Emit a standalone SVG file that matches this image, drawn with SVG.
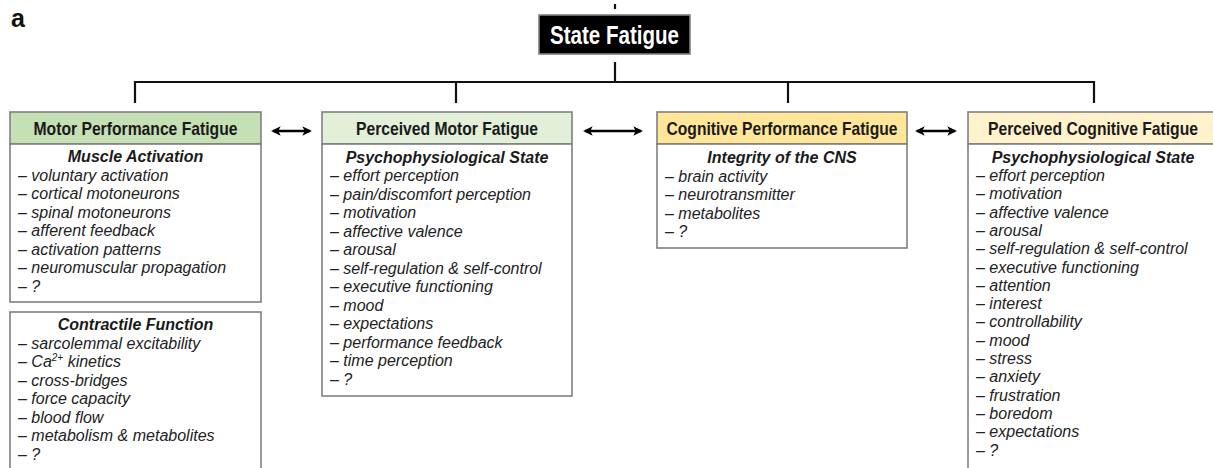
<svg xmlns="http://www.w3.org/2000/svg" width="1213" height="468" viewBox="0 0 1213 468">
<style>
  .bg{fill:#ffffff}
  .box{fill:#ffffff;stroke:#808080;stroke-width:1.6}
  .hdr{stroke:#808080;stroke-width:1.6}
  .htxt{font-family:"Liberation Sans",Arial,sans-serif;font-weight:bold;font-size:19px;fill:#1a1a1a;text-anchor:middle}
  .sub{font-family:"Liberation Sans",Arial,sans-serif;font-weight:bold;font-style:italic;font-size:16px;fill:#1a1a1a;text-anchor:middle}
  .it{font-family:"Liberation Sans",Arial,sans-serif;font-style:italic;font-size:16px;fill:#222222}
  .ln{stroke:#111111;stroke-width:2.2;fill:none}
  .arr{stroke:#000000;stroke-width:2.4;fill:none;marker-start:url(#ah);marker-end:url(#ah)}
</style>
<defs>
  <marker id="ah" viewBox="0 0 10 10" refX="8" refY="5" markerWidth="4" markerHeight="4.6" orient="auto-start-reverse" markerUnits="strokeWidth">
    <path d="M0,0 L10,5 L0,10 L2.5,5 Z" fill="#000000"/>
  </marker>
</defs>
<rect class="bg" x="0" y="0" width="1213" height="468"/>
<text x="11" y="27" font-family="Liberation Sans,Arial,sans-serif" font-weight="bold" font-size="25" fill="#111111">a</text>

<g id="connectors">
  <line class="ln" x1="615" y1="4" x2="615" y2="9"/>
  <line class="ln" x1="615" y1="62" x2="615" y2="82"/>
  <polyline class="ln" points="135,103 135,82 1094,82 1094,103"/>
  <line class="ln" x1="456" y1="82" x2="456" y2="103"/>
  <line class="ln" x1="788" y1="82" x2="788" y2="103"/>
  <line class="arr" x1="273" y1="131" x2="310" y2="131"/>
  <line class="arr" x1="585" y1="131" x2="641" y2="131"/>
  <line class="arr" x1="917" y1="131" x2="955" y2="131"/>
</g>

<g id="state-fatigue">
  <rect x="539" y="15" width="151" height="39" fill="#000000" stroke="#808080" stroke-width="1.6"/>
  <text x="614.5" y="44" font-family="Liberation Sans,Arial,sans-serif" font-weight="bold" font-size="25" fill="#ffffff" text-anchor="middle" textLength="129" lengthAdjust="spacingAndGlyphs">State Fatigue</text>
</g>

<g id="motor-performance-fatigue">
  <rect class="hdr" x="10" y="112" width="251" height="32" fill="#c5e0b4"/>
  <text class="htxt" x="135.5" y="135" textLength="204" lengthAdjust="spacingAndGlyphs">Motor Performance Fatigue</text>
  <rect class="box" x="10" y="144" width="251" height="158"/>
  <text class="sub" x="135.5" y="162">Muscle Activation</text>
  <text class="it" x="18" y="180.5">– voluntary activation</text>
  <text class="it" x="18" y="199">– cortical motoneurons</text>
  <text class="it" x="18" y="217.5">– spinal motoneurons</text>
  <text class="it" x="18" y="236">– afferent feedback</text>
  <text class="it" x="18" y="254.5">– activation patterns</text>
  <text class="it" x="18" y="273">– neuromuscular propagation</text>
  <text class="it" x="18" y="291.5">– ?</text>
</g>

<g id="contractile-function">
  <rect class="box" x="10" y="312" width="251" height="170"/>
  <text class="sub" x="135.5" y="330">Contractile Function</text>
  <text class="it" x="18" y="348.5">– sarcolemmal excitability</text>
  <text class="it" x="18" y="367">– Ca<tspan font-size="10" dy="-6">2+</tspan><tspan dy="6"> kinetics</tspan></text>
  <text class="it" x="18" y="385.5">– cross-bridges</text>
  <text class="it" x="18" y="404">– force capacity</text>
  <text class="it" x="18" y="422.5">– blood flow</text>
  <text class="it" x="18" y="441">– metabolism &amp; metabolites</text>
  <text class="it" x="18" y="459.5">– ?</text>
</g>

<g id="perceived-motor-fatigue">
  <rect class="hdr" x="322" y="112" width="250" height="32" fill="#e2efd9"/>
  <text class="htxt" x="447" y="135" textLength="182" lengthAdjust="spacingAndGlyphs">Perceived Motor Fatigue</text>
  <rect class="box" x="322" y="144" width="250" height="252"/>
  <text class="sub" x="447" y="162.5">Psychophysiological State</text>
  <text class="it" x="330" y="181">– effort perception</text>
  <text class="it" x="330" y="199.5">– pain/discomfort perception</text>
  <text class="it" x="330" y="218">– motivation</text>
  <text class="it" x="330" y="236.5">– affective valence</text>
  <text class="it" x="330" y="255">– arousal</text>
  <text class="it" x="330" y="273.5">– self-regulation &amp; self-control</text>
  <text class="it" x="330" y="292">– executive functioning</text>
  <text class="it" x="330" y="310.5">– mood</text>
  <text class="it" x="330" y="329">– expectations</text>
  <text class="it" x="330" y="347.5">– performance feedback</text>
  <text class="it" x="330" y="366">– time perception</text>
  <text class="it" x="330" y="384.5">– ?</text>
</g>

<g id="cognitive-performance-fatigue">
  <rect class="hdr" x="657" y="112" width="250" height="32" fill="#ffe699"/>
  <text class="htxt" x="782" y="135" textLength="231" lengthAdjust="spacingAndGlyphs">Cognitive Performance Fatigue</text>
  <rect class="box" x="657" y="144" width="250" height="104"/>
  <text class="sub" x="782" y="163">Integrity of the CNS</text>
  <text class="it" x="665" y="181.5">– brain activity</text>
  <text class="it" x="665" y="200">– neurotransmitter</text>
  <text class="it" x="665" y="218.5">– metabolites</text>
  <text class="it" x="665" y="237">– ?</text>
</g>

<g id="perceived-cognitive-fatigue">
  <rect class="hdr" x="968" y="112" width="250" height="32" fill="#fff2cc"/>
  <text class="htxt" x="1093" y="135" textLength="210" lengthAdjust="spacingAndGlyphs">Perceived Cognitive Fatigue</text>
  <rect class="box" x="968" y="144" width="250" height="340"/>
  <text class="sub" x="1093" y="162.5">Psychophysiological State</text>
  <text class="it" x="976" y="181">– effort perception</text>
  <text class="it" x="976" y="199.3">– motivation</text>
  <text class="it" x="976" y="217.6">– affective valence</text>
  <text class="it" x="976" y="235.9">– arousal</text>
  <text class="it" x="976" y="254.2">– self-regulation &amp; self-control</text>
  <text class="it" x="976" y="272.5">– executive functioning</text>
  <text class="it" x="976" y="290.8">– attention</text>
  <text class="it" x="976" y="309.1">– interest</text>
  <text class="it" x="976" y="327.4">– controllability</text>
  <text class="it" x="976" y="345.7">– mood</text>
  <text class="it" x="976" y="364">– stress</text>
  <text class="it" x="976" y="382.3">– anxiety</text>
  <text class="it" x="976" y="400.6">– frustration</text>
  <text class="it" x="976" y="418.9">– boredom</text>
  <text class="it" x="976" y="437.2">– expectations</text>
  <text class="it" x="976" y="455.5">– ?</text>
</g>
</svg>
